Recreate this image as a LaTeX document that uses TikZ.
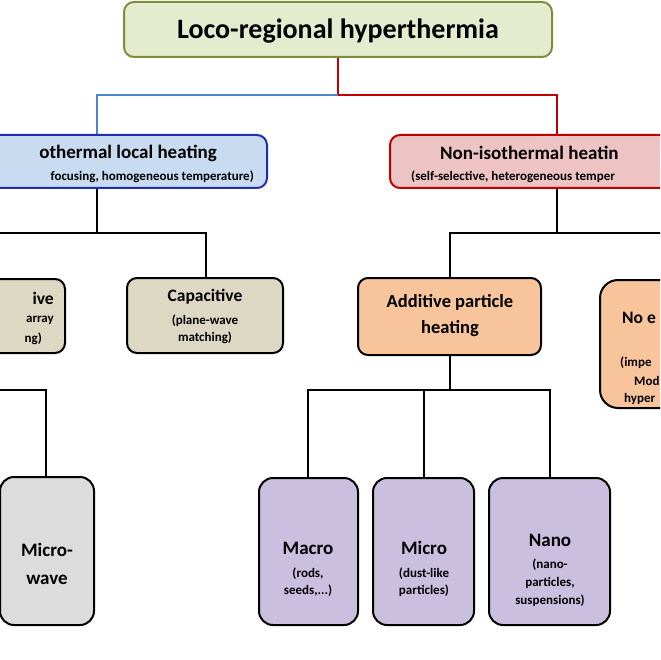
\documentclass[tikz,border=0pt]{standalone}
\usepackage{fontspec}
\setmainfont{Carlito}
\begin{document}
\begin{tikzpicture}[x=1pt,y=-1pt,
 bx/.style={draw,line width=2pt,rounded corners=10pt},
 ln/.style={line width=2.6pt},
 big/.style={font=\bfseries\fontsize{19}{22}\selectfont,inner sep=0pt},
 mid/.style={font=\bfseries\fontsize{17.5}{21}\selectfont,inner sep=0pt,align=center},
 sm/.style={font=\bfseries\fontsize{13}{17}\selectfont,inner sep=0pt,align=center}]
\useasboundingbox (0,0) rectangle (660,660);
\clip (0,0) rectangle (660,660);
\definecolor{tg}{HTML}{E5EBCF}\definecolor{tb}{HTML}{7E8C3C}
\definecolor{bl}{HTML}{C9DBF1}\definecolor{bb}{HTML}{1F2FB0}
\definecolor{rf}{HTML}{EDC3C4}\definecolor{rb}{HTML}{C00000}
\definecolor{bg}{HTML}{DDD8C4}\definecolor{or}{HTML}{F8C49C}
\definecolor{gr}{HTML}{DCDCDC}\definecolor{pu}{HTML}{CABFDE}
\definecolor{ll}{HTML}{4A86C8}
% connectors
\coordinate (tb) at (338,57); \coordinate (tm) at (338,95);
\coordinate (lb) at (97,95); \coordinate (rbt) at (557,95);
\draw[ln,rb] (tb)--(tm)--(rbt)--(557,136);
\draw[ln,ll] (tm)--(lb)--(97,136);
\draw[ln] (97,188)--(97,233)--(206,233)--(206,279);
\draw[ln] (97,233)--(-5,233);
\draw[ln] (557,188)--(557,233)--(450,233)--(450,279);
\draw[ln] (557,233)--(670,233);
\draw[ln] (450,355)--(450,390)--(308,390)--(308,478);
\draw[ln] (450,390)--(550,390)--(550,478);
\draw[ln] (424,390)--(424,478);
\draw[ln] (-5,390)--(46,390)--(46,478);
% boxes
\draw[bx,tb,fill=tg] (124,2) rectangle (552,57);
\node[font=\bfseries\fontsize{28}{32}\selectfont,inner sep=0pt] (title) at (338,31) {Loco-regional hyperthermia};
\draw[bx,bb,fill=bl] (-30,135) rectangle (267,188);
\node[big,anchor=east] (iso) at (217,153) {othermal local heating};
\node[sm,anchor=east] (isos) at (254,177) {focusing, homogeneous temperature)};
\draw[bx,rb,fill=rf] (390,135) rectangle (690,188);
\node[big,anchor=west] (non) at (440,153) {Non-isothermal heatin};
\node[sm,anchor=west] (nons) at (411,177) {(self-selective, heterogeneous temper};
\draw[bx,black,fill=bg] (-30,279) rectangle (65,353);
\node[mid,anchor=east] (ind1) at (54,298) {ive};
\node[sm,anchor=east] (ind2) at (54,320) {array};
\node[sm,anchor=east] (ind3) at (42,339) {ng)};
\draw[bx,black,fill=bg] (127,278) rectangle (283,353);
\node[mid] (cap) at (205,297) {Capacitive};
\node[sm] (caps) at (205,329) {(plane-wave\\matching)};
\draw[bx,black,fill=or] (358,278) rectangle (541,355);
\node[mid,font=\bfseries\fontsize{18.5}{26}\selectfont] (add) at (450,316) {Additive particle\\heating};
\draw[bx,black,fill=or,rounded corners=18pt] (600,280) rectangle (700,408);
\node[mid,anchor=west] (noe) at (622,318) {No e};
\node[sm,anchor=west] (noe1) at (620,363) {(impe};
\node[sm,anchor=west] (noe2) at (634,381) {Mod};
\node[sm,anchor=west] (noe3) at (624,399) {hyper};
\draw[bx,black,fill=gr,rounded corners=14pt] (0,477) rectangle (94,625);
\node[mid,font=\bfseries\fontsize{19}{28}\selectfont] (mw) at (47,564) {Micro-\\wave};
\draw[bx,black,fill=pu,rounded corners=14pt] (259,478) rectangle (358,625);
\node[mid,font=\bfseries\fontsize{19}{22}\selectfont] (mac) at (308,548) {Macro};
\node[sm] (macs) at (308,582) {(rods,\\seeds,...)};
\draw[bx,black,fill=pu,rounded corners=14pt] (373,478) rectangle (474,625);
\node[mid,font=\bfseries\fontsize{19}{22}\selectfont] (mic) at (424,548) {Micro};
\node[sm] (mics) at (424,582) {(dust-like\\particles)};
\draw[bx,black,fill=pu,rounded corners=14pt] (489,478) rectangle (610,625);
\node[mid,font=\bfseries\fontsize{19}{22}\selectfont] (nano) at (550,540) {Nano};
\node[sm,font=\bfseries\fontsize{13}{18}\selectfont] (nanos) at (550,583) {(nano-\\particles,\\suspensions)};
\end{tikzpicture}
\end{document}
